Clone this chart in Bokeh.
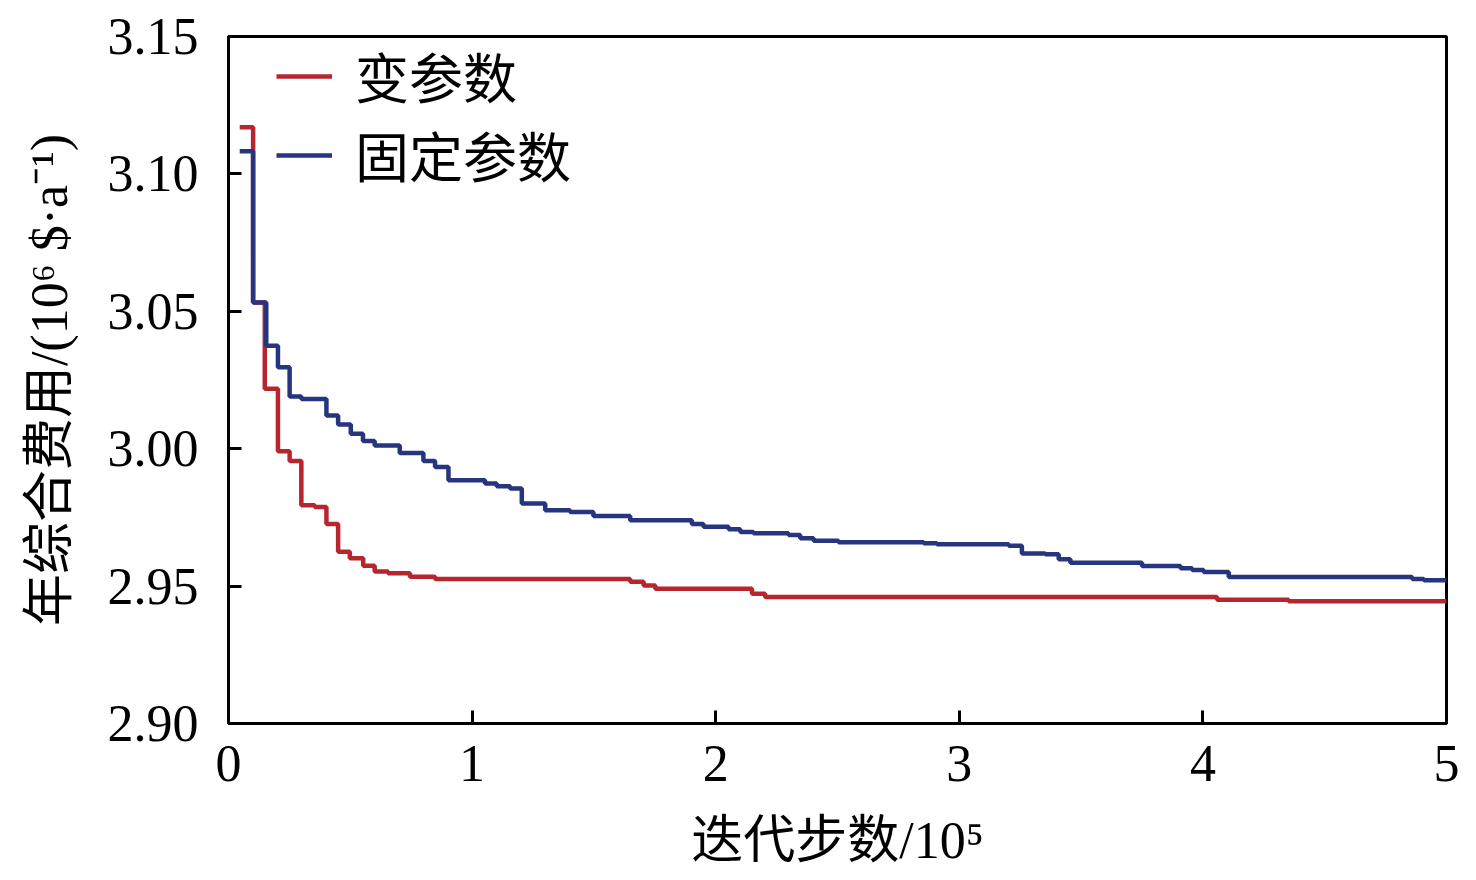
from bokeh.plotting import figure
from bokeh.models import FixedTicker, Legend, LegendItem
from bokeh.embed import file_html
from bokeh.resources import INLINE

# ---- data ----
x_ticks = [0, 1, 2, 3, 4, 5]
x_tick_labels = ["0", "1", "2", "3", "4", "5"]
y_ticks = [2.90, 2.95, 3.00, 3.05, 3.10, 3.15]
y_tick_labels = ["2.90", "2.95", "3.00", "3.05", "3.10", "3.15"]

var_x = [0.046, 0.101, 0.149, 0.203, 0.251, 0.299, 0.354, 0.402, 0.450, 0.498,
         0.553, 0.600, 0.655, 0.745, 0.848, 1.649, 1.704, 1.752, 2.149, 2.203,
         4.058, 4.352, 5.0]
var_y = [3.1170, 3.0532, 3.0218, 2.9991, 2.9955, 2.9794, 2.9788, 2.9726, 2.9625, 2.9601,
         2.9574, 2.9553, 2.9547, 2.9534, 2.9526, 2.9516, 2.9502, 2.9490, 2.9472, 2.9460,
         2.9450, 2.9445, 2.9445]

fix_x = [0.046, 0.101, 0.155, 0.203, 0.251, 0.299, 0.402, 0.450, 0.502, 0.552,
         0.600, 0.703, 0.800, 0.848, 0.903, 1.053, 1.101, 1.156, 1.204, 1.300,
         1.402, 1.498, 1.649, 1.902, 1.950, 2.053, 2.101, 2.155, 2.299, 2.347,
         2.402, 2.504, 2.854, 2.908, 3.203, 3.257, 3.353, 3.408, 3.456, 3.750,
         3.908, 3.956, 4.003, 4.106, 4.859, 4.907, 5.0]
fix_y = [3.1082, 3.0532, 3.0375, 3.0296, 3.0190, 3.0181, 3.0121, 3.0088, 3.0054, 3.0028,
         3.0012, 2.9984, 2.9955, 2.9933, 2.9885, 2.9873, 2.9863, 2.9855, 2.9801, 2.9776,
         2.9770, 2.9755, 2.9740, 2.9726, 2.9716, 2.9707, 2.9697, 2.9692, 2.9686, 2.9674,
         2.9665, 2.9660, 2.9656, 2.9652, 2.9647, 2.9619, 2.9616, 2.9598, 2.9585, 2.9573,
         2.9565, 2.9559, 2.9551, 2.9533, 2.9526, 2.9521, 2.9521]

series_names = ["变参数", "固定参数"]
series_colors = ["#B7252F", "#27357F"]

x_label = "迭代步数/10⁵"
y_label = "年综合费用/(10⁶ $·a⁻¹)"

FONT = "Liberation Serif, Noto Sans CJK SC"

p = figure(width=1476, height=880, x_range=(0, 5), y_range=(2.90, 3.15),
           output_backend="svg", toolbar_location=None,
           min_border_left=228, min_border_right=30, min_border_top=36,
           min_border_bottom=157)

r_var = p.step(var_x, var_y, mode="after", line_color=series_colors[0], line_width=4.5)
r_fix = p.step(fix_x, fix_y, mode="after", line_color=series_colors[1], line_width=4.5)

p.xgrid.visible = False
p.ygrid.visible = False
p.outline_line_color = "black"
p.outline_line_width = 3
p.outline_line_alpha = 1

for ax in (p.xaxis[0], p.yaxis[0]):
    ax.axis_line_width = 3
    ax.axis_line_color = "black"
    ax.major_tick_in = 13
    ax.major_tick_out = 0
    ax.major_tick_line_width = 3
    ax.major_tick_line_color = "black"
    ax.minor_tick_line_color = None
    ax.major_label_text_font = FONT
    ax.major_label_text_font_size = "52px"
    ax.major_label_text_color = "black"
    ax.axis_label_text_font = FONT
    ax.axis_label_text_font_size = "52px"
    ax.axis_label_text_font_style = "normal"
    ax.axis_label_text_color = "black"

p.xaxis[0].ticker = FixedTicker(ticks=x_ticks)
p.xaxis[0].major_label_overrides = {t: l for t, l in zip(x_ticks, x_tick_labels)}
p.yaxis[0].ticker = FixedTicker(ticks=y_ticks)
p.yaxis[0].major_label_overrides = {t: l for t, l in zip(y_ticks, y_tick_labels)}

p.xaxis[0].axis_label = x_label
p.yaxis[0].axis_label = y_label
p.xaxis[0].major_label_standoff = 22
p.xaxis[0].axis_label_standoff = 28
p.yaxis[0].major_label_standoff = 30
p.yaxis[0].axis_label_standoff = 27

legend = Legend(items=[LegendItem(label=series_names[0], renderers=[r_var]),
                       LegendItem(label=series_names[1], renderers=[r_fix])],
                location=(48, 529), orientation="vertical",
                border_line_color=None, background_fill_alpha=0,
                padding=0, margin=0, spacing=-8,
                glyph_width=56, glyph_height=62, label_height=62,
                label_standoff=23, label_text_font=FONT,
                label_text_font_size="54px", label_text_color="black")
p.add_layout(legend, "center")

open("out.html", "w").write(file_html(p, INLINE))
